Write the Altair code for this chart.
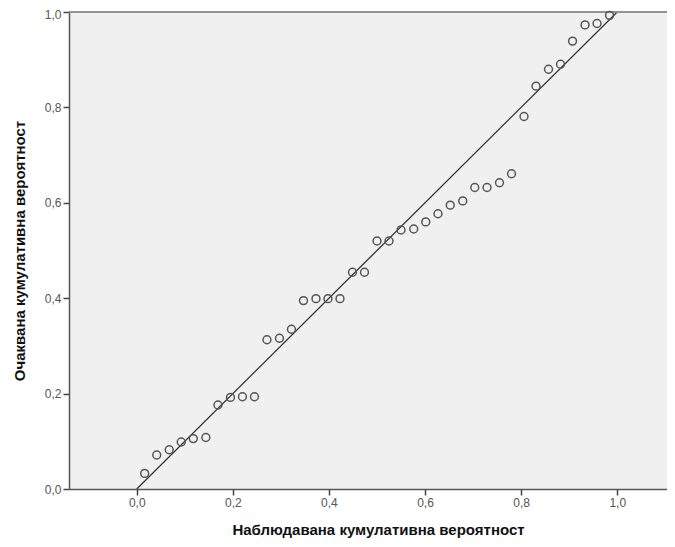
import altair as alt
import pandas as pd

# Observed cumulative probability (x) and expected cumulative probability (y)
obs_x = [0.0165, 0.0416, 0.0676, 0.0926, 0.1177, 0.1438, 0.169, 0.195, 0.220, 0.245,
         0.271, 0.297, 0.322, 0.347, 0.373, 0.398, 0.423, 0.449, 0.474, 0.500,
         0.525, 0.550, 0.5765, 0.6015, 0.627, 0.6525, 0.6785, 0.7035, 0.729, 0.755,
         0.780, 0.806, 0.831, 0.857, 0.882, 0.907, 0.933, 0.958, 0.984]
exp_y = [0.0327, 0.0713, 0.0824, 0.0985, 0.1057, 0.108, 0.176, 0.192, 0.1935, 0.1935,
         0.313, 0.316, 0.335, 0.395, 0.399, 0.399, 0.399, 0.4545, 0.4545, 0.520,
         0.520, 0.543, 0.545, 0.560, 0.577, 0.595, 0.604, 0.632, 0.632, 0.642,
         0.661, 0.781, 0.8445, 0.880, 0.8905, 0.939, 0.973, 0.976, 0.993]
ref_line = [0.0, 1.0]
tick_vals = [0.0, 0.2, 0.4, 0.6, 0.8, 1.0]

x_title = "Наблюдавана кумулативна вероятност"
y_title = "Очаквана кумулативна вероятност"

pts = pd.DataFrame({"x": obs_x, "y": exp_y})
line_df = pd.DataFrame({"x": ref_line, "y": ref_line})

label_expr = "replace(format(datum.value, '.1f'), '.', ',')"

x_scale = alt.Scale(domain=[-0.141, 1.1036], nice=False, zero=False)
y_scale = alt.Scale(domain=[0, 1], nice=False)

x_axis = alt.Axis(values=tick_vals, labelExpr=label_expr, title=x_title, grid=False,
                  titleX=309, titleY=45, titleBaseline="alphabetic", titleAnchor=None)
y_axis = alt.Axis(values=tick_vals, labelExpr=label_expr, title=y_title, grid=False,
                  titleX=-50, titleY=238.5, titleAngle=270, titleBaseline="middle",
                  titleAlign="center",
                  labelOffset={"condition": {"test": "datum.value >= 0.99", "value": 2},
                               "value": 0})

W = 598
H = 477

points = alt.Chart(pts).mark_point(
    shape="circle", filled=False, size=62, stroke="#555555", strokeWidth=1.5, opacity=1
).encode(
    x=alt.X("x:Q", scale=x_scale, axis=x_axis),
    y=alt.Y("y:Q", scale=y_scale, axis=y_axis),
)

diag = alt.Chart(line_df).mark_line(color="#333333", strokeWidth=1.3, clip=True).encode(
    x=alt.X("x:Q", scale=x_scale),
    y=alt.Y("y:Q", scale=y_scale),
)

top_border = alt.Chart(line_df).mark_rule(color="#8c8c8c", strokeWidth=1.5).encode(
    x=alt.value(0), x2=alt.value(W), y=alt.value(0)
)

chart = alt.layer(diag, top_border, points).properties(
    width=W,
    height=H,
    autosize=alt.AutoSizeParams(type="none"),
    padding={"left": 61, "top": 4, "right": 0, "bottom": 50},
    background="white",
).configure_view(
    fill="#f0f0f0", stroke=None
).configure_axis(
    domainColor="#555555", domainWidth=1.5,
    tickColor="#444444", tickSize=6, tickWidth=1.5,
    labelFont="Liberation Sans Narrow, Liberation Sans, Arial", labelFontSize=12,
    labelColor="#555555", labelPadding=2,
    titleFont="Liberation Sans, Arial", titleFontSize=15, titleFontWeight="bold",
    titleColor="#111111",
)

chart.save("out.html", embed_options={"renderer": "svg", "actions": False})
